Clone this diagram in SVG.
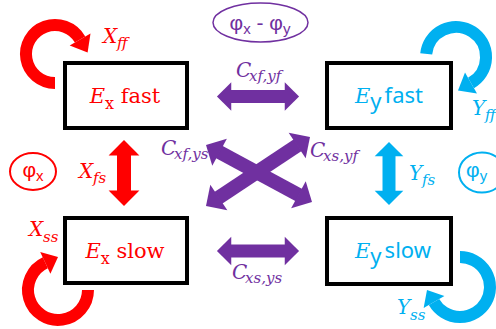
<svg xmlns="http://www.w3.org/2000/svg" width="496" height="329" viewBox="0 0 496 329">
<style>
.box{fill:#fff;stroke:#000;stroke-width:4}
.ser{font-family:"DejaVu Serif","Liberation Serif",serif;font-size:21px}
.san{font-family:"Noto Sans","Open Sans",sans-serif;font-size:22px}
.it{font-family:"DejaVu Serif","Liberation Serif",serif;font-style:italic;font-size:20px}
.sub{font-size:15px}
.red{fill:#FF0000}
.blue{fill:#00B0F0}
.pur{fill:#7030A0}
.phi{font-family:"Liberation Sans","DejaVu Sans",sans-serif;font-size:21px}
.phis{font-size:15px}
</style>
<defs>
<marker id="hr" viewBox="0 -1.2 1.2 2.4" markerWidth="1.2" markerHeight="2.4" refX="0.05" refY="0" orient="auto-start-reverse" markerUnits="strokeWidth" overflow="visible"><path d="M0,-1.1 L1.1,0 L0,1.1 Z" fill="#FF0000"/></marker>
<marker id="hb" viewBox="0 -1.2 1.2 2.4" markerWidth="1.2" markerHeight="2.4" refX="0.05" refY="0" orient="auto-start-reverse" markerUnits="strokeWidth" overflow="visible"><path d="M0,-1.1 L1.1,0 L0,1.1 Z" fill="#00B0F0"/></marker>
<marker id="hp" viewBox="0 -1.2 1.2 2.4" markerWidth="1.2" markerHeight="2.4" refX="0.05" refY="0" orient="auto-start-reverse" markerUnits="strokeWidth" overflow="visible"><path d="M0,-1.1 L1.1,0 L0,1.1 Z" fill="#7030A0"/></marker>
</defs>

<g id="connectors">
  <g fill="none" stroke-width="12">
    <path d="M55,83 A29,29 0 1 1 80.1,39.5" stroke="#FF0000"/>
    <path d="M88,290 A30,30 0 1 1 45.3,262.8" stroke="#FF0000"/>
    <path d="M426.2,53.9 A30,30 0 1 1 471,83" stroke="#00B0F0"/>
    <path d="M460,257 A30,30 0 1 1 434,302" stroke="#00B0F0"/>
  </g>
  <polygon points="90.5,33.5 87.6,52.5 69.7,45.5" fill="#FF0000"/>
  <polygon points="50.4,273.7 58,256.9 40.2,251.9" fill="#FF0000"/>
  <polygon points="477,93.4 458,90.5 465,72.6" fill="#00B0F0"/>
  <polygon points="444.4,296 427,289.9 423.6,308" fill="#00B0F0"/>
  <line x1="230.6" y1="96.5" x2="285.4" y2="96.5" stroke="#7030A0" stroke-width="13" marker-start="url(#hp)" marker-end="url(#hp)"/>
  <line x1="230.6" y1="251" x2="285.4" y2="251" stroke="#7030A0" stroke-width="13" marker-start="url(#hp)" marker-end="url(#hp)"/>
  <line x1="218.95" y1="151.96" x2="299.05" y2="195.04" stroke="#7030A0" stroke-width="14" marker-start="url(#hp)" marker-end="url(#hp)"/>
  <line x1="297.75" y1="145.13" x2="218.25" y2="197.87" stroke="#7030A0" stroke-width="14" marker-start="url(#hp)" marker-end="url(#hp)"/>
  <line x1="124" y1="154.7" x2="124" y2="191.3" stroke="#FF0000" stroke-width="14" marker-start="url(#hr)" marker-end="url(#hr)"/>
  <line x1="389" y1="155.6" x2="389" y2="191.4" stroke="#00B0F0" stroke-width="13" marker-start="url(#hb)" marker-end="url(#hb)"/>
</g>

<g id="labels">
  <text class="it red" x="103" y="43">X<tspan class="sub" x="117" y="48">ff</tspan></text>
  <text class="it red" x="79" y="178">X<tspan class="sub" x="93" y="183">fs</tspan></text>
  <text class="it red" x="29" y="236">X<tspan class="sub" x="43" y="242">ss</tspan></text>
  <text class="it blue" x="472" y="115">Y<tspan class="sub" x="485" y="120">ff</tspan></text>
  <text class="it blue" x="409" y="180">Y<tspan class="sub" x="422" y="185">fs</tspan></text>
  <text class="it blue" x="397" y="314">Y<tspan class="sub" x="410" y="320">ss</tspan></text>
  <text class="it pur" x="236" y="77">C<tspan class="sub" x="249" y="81">xf,yf</tspan></text>
  <text class="it pur" x="161" y="155">C<tspan class="sub" x="174" y="159">xf,ys</tspan></text>
  <text class="it pur" x="310" y="157">C<tspan class="sub" x="323" y="161">xs,yf</tspan></text>
  <text class="it pur" x="232" y="279">C<tspan class="sub" x="245" y="283">xs,ys</tspan></text>
</g>

<g id="phase-diff">
  <ellipse cx="260.5" cy="22.5" rx="47.5" ry="19.5" fill="none" stroke="#7030A0" stroke-width="1.5"/>
  <text class="phi pur" x="260" y="30" text-anchor="middle">φ<tspan class="phis" dy="4">x</tspan><tspan dy="-4"> - φ</tspan><tspan class="phis" dy="4">y</tspan></text>
</g>
<g id="phi-x">
  <ellipse cx="33" cy="171.5" rx="23" ry="18.5" fill="none" stroke="#FF0000" stroke-width="2"/>
  <text class="phi red" x="33" y="177" text-anchor="middle">φ<tspan class="phis" dy="4">x</tspan></text>
</g>
<g id="phi-y">
  <ellipse cx="482" cy="172.5" rx="23" ry="20" fill="none" stroke="#00B0F0" stroke-width="2"/>
  <text class="phi blue" x="466" y="177">φ<tspan class="phis" dy="4">y</tspan></text>
</g>

<g id="ex-fast">
  <rect class="box" x="65" y="63" width="122" height="65"/>
  <text class="ser red" x="125" y="103" text-anchor="middle"><tspan font-style="italic">E</tspan><tspan font-size="16" dy="6">x</tspan><tspan dy="-6"> fast</tspan></text>
</g>
<g id="ey-fast">
  <rect class="box" x="327" y="63" width="124" height="65"/>
  <text class="blue" x="389" y="103" text-anchor="middle"><tspan class="ser" font-style="italic">E</tspan><tspan class="san" font-size="15" dy="6">y</tspan><tspan class="san" dx="3" dy="-6">fast</tspan></text>
</g>
<g id="ex-slow">
  <rect class="box" x="65" y="218" width="122" height="65"/>
  <text class="ser red" x="125" y="258" text-anchor="middle"><tspan font-style="italic">E</tspan><tspan font-size="16" dy="6">x</tspan><tspan dy="-6"> slow</tspan></text>
</g>
<g id="ey-slow">
  <rect class="box" x="327" y="218" width="124" height="66"/>
  <text class="blue" x="393" y="258" text-anchor="middle"><tspan class="ser" font-style="italic">E</tspan><tspan class="san" font-size="15" dy="6">y</tspan><tspan class="san" dx="3" dy="-6">slow</tspan></text>
</g>
</svg>
